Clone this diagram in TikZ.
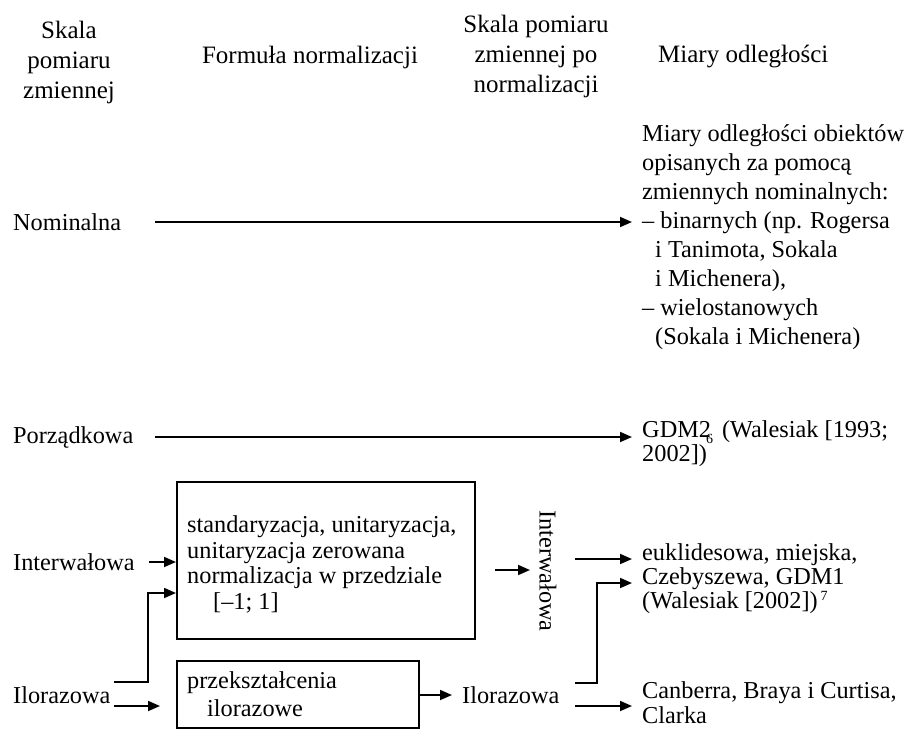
\documentclass[tikz,border=0pt]{standalone}
\usepackage{fontspec}
\setmainfont{Liberation Serif}
\usetikzlibrary{arrows.meta}
\tikzset{
  conn/.style={line width=1.8pt,-{Triangle[length=12pt,width=10pt]}},
  boxx/.style={draw,line width=1.8pt,inner sep=0pt},
  txt/.style={inner sep=0pt,align=left,font=\fontsize{24.3}{25.7}\selectfont},
  hdr/.style={inner sep=0pt,align=center,font=\fontsize{25}{30}\selectfont},
}
\newcommand{\smallnum}[1]{{\fontsize{14}{14}\selectfont #1}}
\begin{document}
\begin{tikzpicture}[x=1pt,y=-1pt]
\useasboundingbox (0,0) rectangle (911,729);
% headers
\node[hdr] (h1) at (69,62) {Skala\\pomiaru\\zmiennej};
\node[hdr] (h2) at (310,57) {Formuła normalizacji};
\node[hdr] (h3) at (536,56) {Skala pomiaru\\zmiennej po\\normalizacji};
\node[hdr,anchor=west] (h4) at (658,57) {Miary odległości};
% left labels
\node[txt,anchor=west] (nom) at (13,222) {Nominalna};
\node[txt,anchor=west] (por) at (13,437) {Porządkowa};
\node[txt,anchor=west] (int) at (13,562) {Interwałowa};
\node[txt,anchor=west] (ilo) at (13,695) {Ilorazowa};
% right texts
\node[txt,anchor=west,font=\fontsize{24.3}{29}\selectfont] (r1) at (642,237) {Miary odległości obiektów\\opisanych za pomocą\\zmiennych nominalnych:\\– binarnych (np. Rogersa\\\hspace*{13pt}i Tanimota, Sokala\\\hspace*{13pt}i Michenera),\\– wielostanowych\\\hspace*{13pt}(Sokala i Michenera)};
\node[txt,anchor=west,font=\fontsize{24.3}{24}\selectfont] (r2) at (642,444) {GDM2\kern-5pt\raisebox{-6pt}{\smallnum{6}}\hspace*{9pt}(Walesiak [1993;\\2002])};
\node[txt,anchor=west,font=\fontsize{24.3}{24}\selectfont] (r3) at (642,579) {euklidesowa, miejska,\\Czebyszewa, GDM1\\(Walesiak [2002])\kern3pt\raisebox{8pt}{\smallnum{7}}};
\node[txt,anchor=west,font=\fontsize{24.3}{25}\selectfont] (r4) at (642,703) {Canberra, Braya i Curtisa,\\Clarka};
% boxes
\node[boxx,minimum width=298pt,minimum height=157pt,anchor=north west] (b1) at (176,481) {};
\node[txt,anchor=west] (b1t) at (187,564.5) {standaryzacja, unitaryzacja,\\unitaryzacja zerowana\\normalizacja w przedziale\\\hspace*{26pt}[–1; 1]};
\node[boxx,minimum width=242pt,minimum height=67pt,anchor=north west] (b2) at (176,660) {};
\node[txt,anchor=west,font=\fontsize{24.3}{28}\selectfont] (b2t) at (187,694) {przekształcenia\\\hspace*{20pt}ilorazowe};
% middle results
\node[txt,rotate=-90] (mint) at (548,571) {Interwałowa};
\node[txt,anchor=west] (milo) at (462,695) {Ilorazowa};
% coordinates
\coordinate (nomS) at (155,222); \coordinate (nomE) at (632,222);
\coordinate (porS) at (155,437); \coordinate (porE) at (632,437);
\coordinate (intS) at (149,562);
\coordinate (iloA) at (114,682); \coordinate (iloB) at (148,593);
\coordinate (iloC) at (114,706); \coordinate (iloD) at (160,706);
\coordinate (b1o) at (495,570); \coordinate (b1e) at (530,570);
\coordinate (b2o) at (452,695);
\coordinate (miA) at (575,559); \coordinate (miE) at (632,559);
\coordinate (mlA) at (575,683); \coordinate (mlB) at (597,583); \coordinate (mlE) at (632,583);
\coordinate (mlC) at (575,706); \coordinate (mlD) at (632,706);
% connectors
\draw[conn] (nomS) -- (nomE);
\draw[conn] (porS) -- (porE);
\draw[conn] (intS) -- (intS -| b1.west);
\draw[conn] (iloA) -| (iloB) -- (iloB -| b1.west);
\draw[conn] (iloC) -- (iloD);
\draw[conn] (b1o) -- (b1e);
\draw[conn] (b2o -| b2.east) -- (b2o);
\draw[conn] (miA) -- (miE);
\draw[conn] (mlA) -| (mlB) -- (mlE);
\draw[conn] (mlC) -- (mlD);
\end{tikzpicture}
\end{document}
